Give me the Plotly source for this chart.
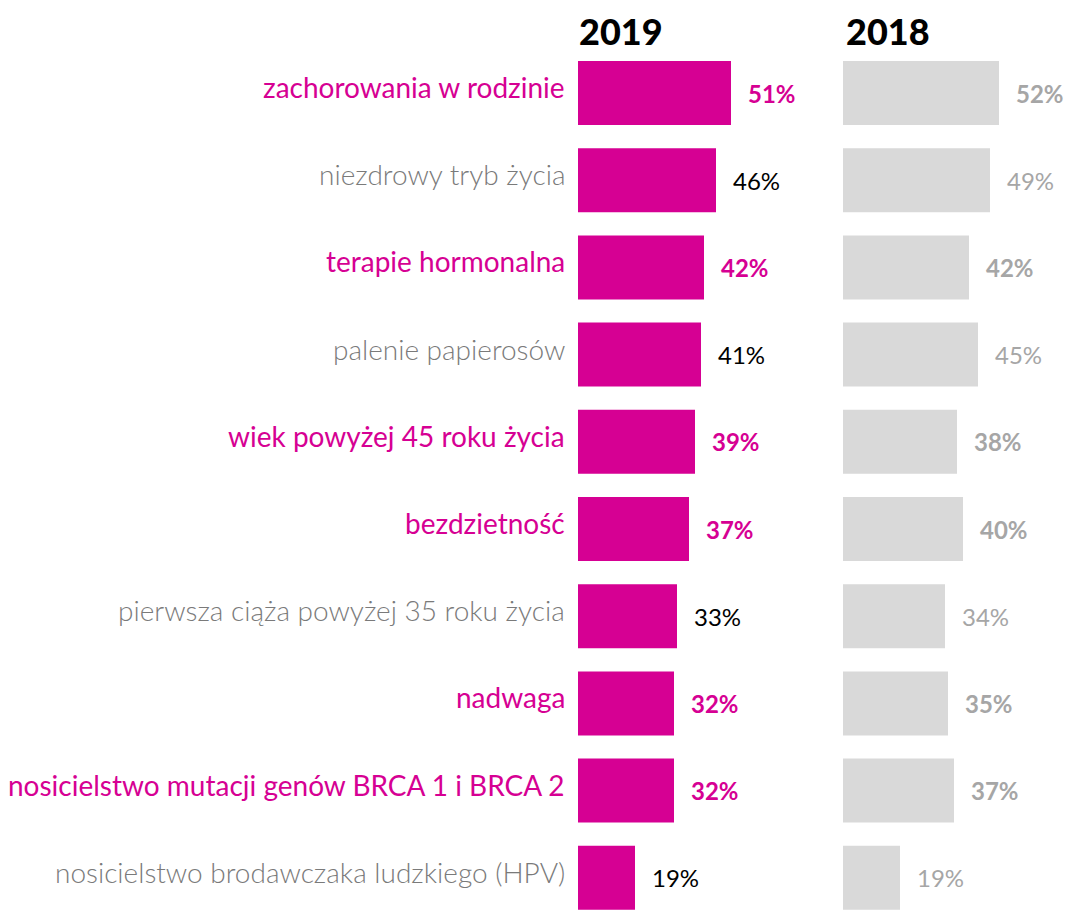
import plotly.graph_objects as go

categories = [
    "zachorowania w rodzinie",
    "niezdrowy tryb życia",
    "terapie hormonalna",
    "palenie papierosów",
    "wiek powyżej 45 roku życia",
    "bezdzietność",
    "pierwsza ciąża powyżej 35 roku życia",
    "nadwaga",
    "nosicielstwo mutacji genów BRCA 1 i BRCA 2",
    "nosicielstwo brodawczaka ludzkiego (HPV)",
]
values_2019 = [51, 46, 42, 41, 39, 37, 33, 32, 32, 19]
values_2018 = [52, 49, 42, 45, 38, 40, 34, 35, 37, 19]
highlight = [True, False, True, False, True, True, False, True, True, False]
years = ["2019", "2018"]

MAGENTA = "#D60093"
GRAY_BAR = "#D9D9D9"
GRAY_LABEL = "#7A7A7A"
GRAY_VAL = "#A6A6A6"

OFF = 8  # page body margin
W, H = 1072 - OFF, 910 - OFF
left = 578 - OFF
plot_w = W - left
x2_start = (843 - OFF - left) / plot_w
px_per = 3.0
range1 = (x2_start * plot_w) / px_per
range2 = ((1 - x2_start) * plot_w) / px_per

pitch = 87.2
c0 = 93.0 - OFF
n = len(categories)
y_top = -c0 / pitch
y_bot = (n - 1) + (H - (c0 + (n - 1) * pitch)) / pitch

fig = go.Figure()
fig.add_trace(go.Bar(y=categories, x=values_2019, orientation="h",
                     marker=dict(color=MAGENTA, line=dict(width=0)),
                     width=0.734, xaxis="x", yaxis="y", hoverinfo="skip"))
fig.add_trace(go.Bar(y=categories, x=values_2018, orientation="h",
                     marker=dict(color=GRAY_BAR, line=dict(width=0)),
                     width=0.734, xaxis="x2", yaxis="y", hoverinfo="skip"))

ann = []
LABEL_FONT = "Lato"
VAL_FONT = "Lato"
for cat, v19, v18, hl in zip(categories, values_2019, values_2018, highlight):
    ann.append(dict(x=0, y=cat, xref="x", yref="y", text=cat, showarrow=False,
                    xanchor="right", yanchor="middle", xshift=-11, yshift=6,
                    font=dict(family=LABEL_FONT, size=28,
                              color=MAGENTA if hl else GRAY_LABEL,
                              weight=400 if hl else 300)))
    ann.append(dict(x=v19, y=cat, xref="x", yref="y", text=f"{v19}%", showarrow=False,
                    xanchor="left", yanchor="middle", xshift=15, yshift=0,
                    font=dict(family=VAL_FONT, size=24,
                              color=MAGENTA if hl else "#000000",
                              weight=700 if hl else 400)))
    ann.append(dict(x=v18, y=cat, xref="x2", yref="y", text=f"{v18}%", showarrow=False,
                    xanchor="left", yanchor="middle", xshift=15, yshift=0,
                    font=dict(family=VAL_FONT, size=24, color=GRAY_VAL,
                              weight=700 if hl else 400)))

ann.append(dict(x=0, y=1, xref="x", yref="paper", text=years[0], showarrow=False,
                xanchor="left", yanchor="top", borderpad=0,
                font=dict(family=VAL_FONT, size=36, color="#000000", weight=900)))
ann.append(dict(x=0, y=1, xref="x2", yref="paper", text=years[1], showarrow=False,
                xanchor="left", yanchor="top", xshift=2, borderpad=0,
                font=dict(family=VAL_FONT, size=36, color="#000000", weight=900)))

fig.update_layout(
    width=W, height=H,
    margin=dict(l=left, r=0, t=0, b=0),
    paper_bgcolor="white", plot_bgcolor="white",
    showlegend=False,
    xaxis=dict(domain=[0, x2_start], range=[0, range1], visible=False, fixedrange=True),
    xaxis2=dict(domain=[x2_start, 1], range=[0, range2], visible=False, fixedrange=True),
    yaxis=dict(type="category", range=[y_bot, y_top], visible=False, fixedrange=True),
    annotations=ann,
)

fig.write_html("out.html", config={"displayModeBar": False})
